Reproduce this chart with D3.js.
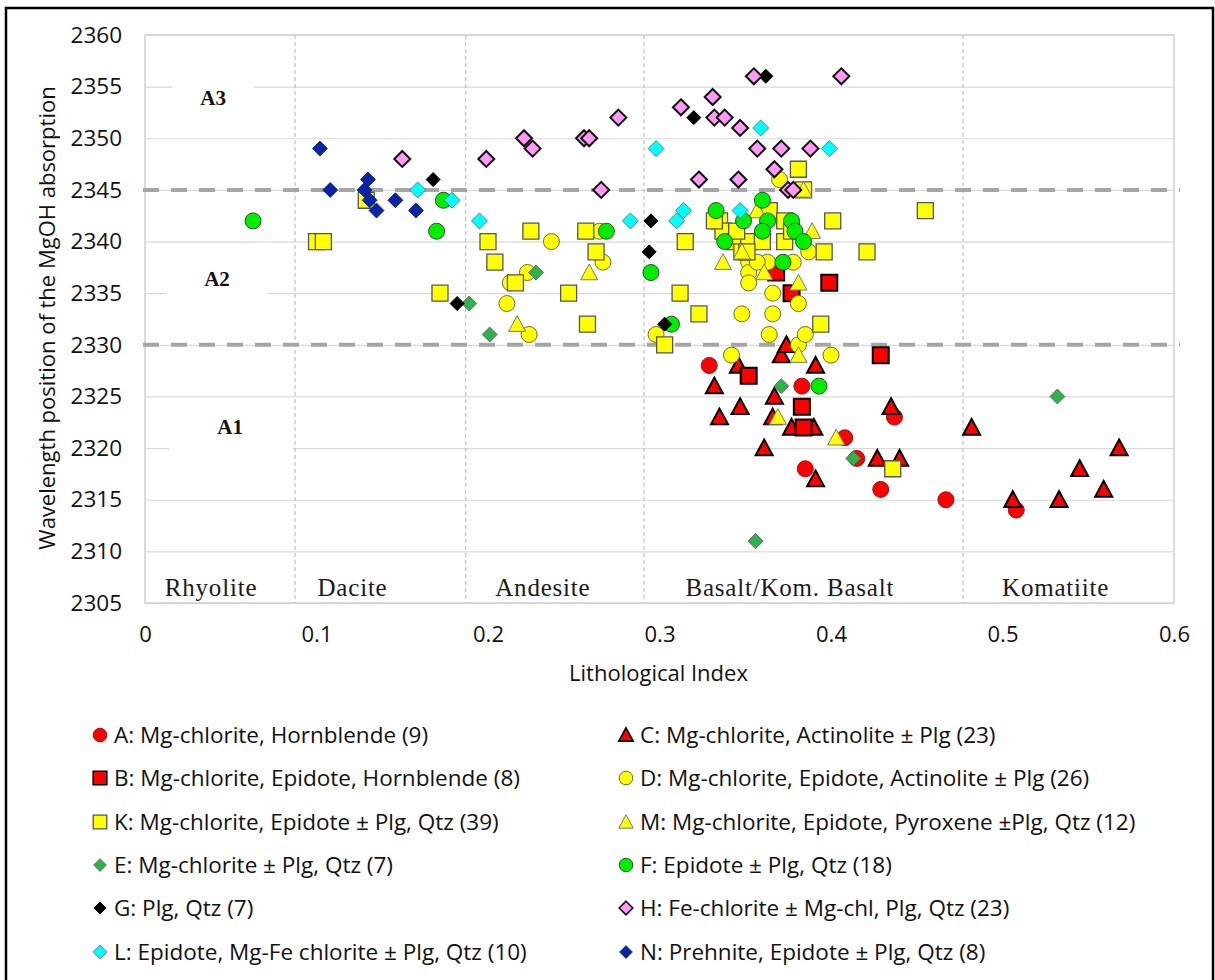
<!DOCTYPE html>
<html>
<head>
<meta charset="utf-8">
<script src="https://cdn.jsdelivr.net/npm/d3@7"></script>
<style>
  body { margin: 0; background: #fff; }
  svg { display: block; }
</style>
</head>
<body>
<svg id="chart" width="1215" height="980"></svg>
<script>
// Lithological index (x) vs. wavelength of the MgOH absorption (y), per mineral assemblage
const seriesA = [[0.329, 2328], [0.383, 2326], [0.385, 2318], [0.437, 2323], [0.408, 2321], [0.415, 2319], [0.429, 2316], [0.467, 2315], [0.508, 2314]];
const seriesC = [[0.346, 2328], [0.332, 2326], [0.347, 2324], [0.335, 2323], [0.361, 2320], [0.371, 2329], [0.374, 2330], [0.367, 2325], [0.366, 2323], [0.377, 2322], [0.390, 2322], [0.391, 2317], [0.391, 2328], [0.435, 2324], [0.482, 2322], [0.427, 2319], [0.440, 2319], [0.506, 2315], [0.533, 2315], [0.545, 2318], [0.559, 2316], [0.568, 2320]];
const seriesB = [[0.352, 2327], [0.383, 2324], [0.384, 2322], [0.429, 2329], [0.399, 2336], [0.377, 2335], [0.368, 2337]];
const seriesD = [[0.237, 2340], [0.223, 2337], [0.213, 2336], [0.211, 2334], [0.224, 2331], [0.265, 2341], [0.267, 2338], [0.298, 2331], [0.348, 2333], [0.366, 2333], [0.364, 2331], [0.342, 2329], [0.381, 2330], [0.385, 2331], [0.400, 2329], [0.370, 2346], [0.387, 2339], [0.352, 2338], [0.352, 2337], [0.363, 2338], [0.378, 2338], [0.366, 2335], [0.381, 2334], [0.352, 2336], [0.357, 2338]];
const seriesK = [[0.100, 2340], [0.104, 2340], [0.129, 2344], [0.172, 2335], [0.200, 2340], [0.204, 2338], [0.225, 2341], [0.216, 2336], [0.247, 2335], [0.257, 2341], [0.263, 2339], [0.258, 2332], [0.303, 2330], [0.315, 2340], [0.312, 2335], [0.323, 2333], [0.381, 2347], [0.384, 2345], [0.364, 2343], [0.335, 2342], [0.337, 2341], [0.373, 2342], [0.343, 2340], [0.352, 2340], [0.360, 2340], [0.373, 2340], [0.401, 2342], [0.396, 2339], [0.421, 2339], [0.455, 2343], [0.394, 2332], [0.436, 2318], [0.377, 2341], [0.348, 2339], [0.345, 2341], [0.351, 2339], [0.332, 2342]];
const seriesM = [[0.259, 2337], [0.217, 2332], [0.384, 2345], [0.357, 2343], [0.389, 2341], [0.348, 2339], [0.337, 2338], [0.361, 2337], [0.381, 2336], [0.381, 2329], [0.369, 2323], [0.403, 2321]];
const seriesE = [[0.189, 2334], [0.228, 2337], [0.201, 2331], [0.371, 2326], [0.356, 2311], [0.532, 2325], [0.413, 2319]];
const seriesF = [[0.063, 2342], [0.174, 2344], [0.170, 2341], [0.269, 2341], [0.295, 2337], [0.307, 2332], [0.333, 2343], [0.360, 2344], [0.349, 2342], [0.363, 2342], [0.377, 2342], [0.360, 2341], [0.379, 2341], [0.384, 2340], [0.338, 2340], [0.372, 2338], [0.393, 2326]];
const seriesG = [[0.168, 2346], [0.182, 2334], [0.320, 2352], [0.362, 2356], [0.295, 2342], [0.294, 2339], [0.303, 2332]];
const seriesH = [[0.150, 2348], [0.199, 2348], [0.221, 2350], [0.226, 2349], [0.256, 2350], [0.259, 2350], [0.276, 2352], [0.266, 2345], [0.3125, 2353], [0.331, 2354], [0.332, 2352], [0.338, 2352], [0.355, 2356], [0.347, 2351], [0.357, 2349], [0.371, 2349], [0.388, 2349], [0.323, 2346], [0.346, 2346], [0.367, 2347], [0.375, 2345], [0.378, 2345], [0.406, 2356]];
const seriesL = [[0.159, 2345], [0.179, 2344], [0.195, 2342], [0.298, 2349], [0.359, 2351], [0.283, 2342], [0.314, 2343], [0.310, 2342], [0.347, 2343], [0.399, 2349]];
const seriesN = [[0.102, 2349], [0.108, 2345], [0.130, 2346], [0.128, 2345], [0.131, 2344], [0.135, 2343], [0.146, 2344], [0.158, 2343]];

// series in plotting order (Excel order, later ones drawn on top)
const seriesKeys = ['A', 'C', 'B', 'D', 'K', 'M', 'E', 'F', 'G', 'H', 'L', 'N'];
const seriesLabels = {
  A: 'A: Mg-chlorite, Hornblende (9)',
  B: 'B: Mg-chlorite, Epidote, Hornblende (8)',
  K: 'K: Mg-chlorite, Epidote \u00b1 Plg, Qtz (39)',
  E: 'E: Mg-chlorite \u00b1 Plg, Qtz (7)',
  G: 'G: Plg, Qtz (7)',
  L: 'L: Epidote, Mg-Fe chlorite \u00b1 Plg, Qtz (10)',
  C: 'C: Mg-chlorite, Actinolite \u00b1 Plg (23)',
  D: 'D: Mg-chlorite, Epidote, Actinolite \u00b1 Plg (26)',
  M: 'M: Mg-chlorite, Epidote, Pyroxene \u00b1Plg, Qtz (12)',
  F: 'F: Epidote \u00b1 Plg, Qtz (18)',
  H: 'H: Fe-chlorite \u00b1 Mg-chl, Plg, Qtz (23)',
  N: 'N: Prehnite, Epidote \u00b1 Plg, Qtz (8)'
};
const seriesData = {A: seriesA, B: seriesB, C: seriesC, D: seriesD, K: seriesK, M: seriesM,
  E: seriesE, F: seriesF, G: seriesG, H: seriesH, L: seriesL, N: seriesN};
const legendLeft = ['A', 'B', 'K', 'E', 'G', 'L'];
const legendRight = ['C', 'D', 'M', 'F', 'H', 'N'];

const xTicks = [0, 0.1, 0.2, 0.3, 0.4, 0.5, 0.6];
const yTicks = [2305, 2310, 2315, 2320, 2325, 2330, 2335, 2340, 2345, 2350, 2355, 2360];

const rockNames = ['Rhyolite', 'Dacite', 'Andesite', 'Basalt/Kom. Basalt', 'Komatiite'];
const rockLabelX = [0.0385, 0.121, 0.232, 0.376, 0.531];
const rockBounds = [0.0875, 0.187, 0.291, 0.477];

const zoneLimits = [2330, 2345];
const zoneNames = ['A1', 'A2', 'A3'];
const zoneLabelX = [0.0496, 0.042, 0.0397];
const zoneLabelY = [2321.4, 2335.7, 2353.2];

// marker styles
const style = {
  A: {shape: 'circle', fill: '#ff0000', stroke: '#8b1a1a', sw: 1, size: 16},
  B: {shape: 'square', fill: '#ff0000', stroke: '#000', sw: 2, size: 16},
  C: {shape: 'triangle', fill: '#ff0000', stroke: '#000', sw: 2, size: 17},
  D: {shape: 'circle', fill: '#ffff00', stroke: '#6b6b3a', sw: 1, size: 16},
  K: {shape: 'square', fill: '#ffff00', stroke: '#555', sw: 1.3, size: 16},
  M: {shape: 'triangle', fill: '#ffff00', stroke: '#777', sw: 1, size: 17},
  E: {shape: 'diamond', fill: '#2fb24c', stroke: '#5a5a5a', sw: 0.8, size: 15},
  F: {shape: 'circle', fill: '#00ee00', stroke: '#2d4d2d', sw: 1, size: 16},
  G: {shape: 'diamond', fill: '#000', stroke: '#000', sw: 1, size: 14},
  H: {shape: 'diamond', fill: '#ff99f5', stroke: '#111', sw: 2, size: 16},
  L: {shape: 'diamond', fill: '#00ffff', stroke: '#4a6a6a', sw: 0.8, size: 16},
  N: {shape: 'diamond', fill: '#0a24a8', stroke: '#0a1a70', sw: 0.8, size: 15}
};

function markerPath(shape, s) {
  const h = s / 2;
  if (shape === 'circle') return d3.symbol(d3.symbolCircle, Math.PI * h * h)();
  if (shape === 'square') return `M${-h},${-h}H${h}V${h}H${-h}Z`;
  if (shape === 'triangle') return `M0,${-h}L${h},${h * 0.85}L${-h},${h * 0.85}Z`;
  return `M0,${-h}L${h},0L0,${h}L${-h},0Z`; // diamond
}

const svg = d3.select('#chart');
const margin = {top: 35, right: 41, bottom: 377, left: 145};
const width = 1215 - margin.left - margin.right;
const height = 980 - margin.top - margin.bottom;
const font = '"Open Sans", Lato, sans-serif';

// outer frame
svg.append('rect')
  .attr('x', 6).attr('y', 8)
  .attr('width', 1207).attr('height', 1000)
  .attr('fill', 'none').attr('stroke', '#000').attr('stroke-width', 2.5);

const g = svg.append('g').attr('transform', `translate(${margin.left},${margin.top})`);

const x = d3.scaleLinear().domain([0, 0.6]).range([0, width]);
const y = d3.scaleLinear().domain([2305, 2360]).range([height, 0]);

// horizontal grid
g.append('g')
  .call(d3.axisLeft(y).tickValues(yTicks).tickSize(-width).tickFormat(''))
  .call(ax => ax.select('.domain').remove())
  .call(ax => ax.selectAll('line').attr('stroke', '#d9d9d9').attr('stroke-width', 1.2));

// plot box
g.append('rect')
  .attr('width', width).attr('height', height)
  .attr('fill', 'none').attr('stroke', '#d0d0d0').attr('stroke-width', 1.5);

// rock type boundaries
g.selectAll('.bound')
  .data(rockBounds)
  .enter().append('line')
    .attr('x1', d => x(d)).attr('x2', d => x(d))
    .attr('y1', 0).attr('y2', height)
    .attr('stroke', '#b5b5b5').attr('stroke-width', 1)
    .attr('stroke-dasharray', '4,3');

// zone labels with white boxes
const zoneBoxW = [124, 101, 81];
zoneNames.forEach((name, i) => {
  const cx = x(zoneLabelX[i]);
  const cy = y(zoneLabelY[i]);
  g.append('rect')
    .attr('x', cx - zoneBoxW[i] / 2 + (i === 0 ? 1 : 0)).attr('y', cy - 28)
    .attr('width', zoneBoxW[i]).attr('height', 44)
    .attr('fill', '#fff');
  g.append('text')
    .attr('x', cx).attr('y', cy)
    .attr('text-anchor', 'middle')
    .attr('font-family', '"Liberation Serif", "Times New Roman", serif')
    .attr('font-weight', 'bold')
    .attr('font-size', 21)
    .attr('fill', '#111')
    .text(name);
});

// zone limits
g.selectAll('.zone')
  .data(zoneLimits)
  .enter().append('line')
    .attr('x1', -2).attr('x2', width + 6)
    .attr('y1', d => y(d)).attr('y2', d => y(d))
    .attr('stroke', '#a6a6a6').attr('stroke-width', 4)
    .attr('stroke-dasharray', '16,12');

// rock names
g.selectAll('.rock')
  .data(rockNames)
  .enter().append('text')
    .attr('x', (d, i) => x(rockLabelX[i]))
    .attr('y', height - 7)
    .attr('text-anchor', 'middle')
    .attr('font-family', '"Liberation Serif", "Times New Roman", serif')
    .attr('font-size', 25)
    .attr('letter-spacing', 0.8)
    .attr('fill', '#1a1a1a')
    .text(d => d);

// axes labels
g.append('g')
  .attr('transform', `translate(0,${height})`)
  .call(d3.axisBottom(x).tickValues(xTicks).tickSize(0).tickPadding(23).tickFormat(d => d === 0 ? '0' : d3.format('.1f')(d)))
  .call(ax => ax.select('.domain').remove())
  .call(ax => ax.selectAll('text').attr('font-family', font).attr('font-size', 22).attr('fill', '#111'));

g.append('g')
  .call(d3.axisLeft(y).tickValues(yTicks).tickSize(0).tickPadding(23).tickFormat(d3.format('d')))
  .call(ax => ax.select('.domain').remove())
  .call(ax => ax.selectAll('text').attr('font-family', font).attr('font-size', 22.5).attr('fill', '#111'));

svg.append('text')
  .attr('x', margin.left + width / 2 - 1)
  .attr('y', 681)
  .attr('text-anchor', 'middle')
  .attr('font-family', font).attr('font-size', 22).attr('fill', '#111')
  .text('Lithological Index');

svg.append('text')
  .attr('transform', 'translate(55,318) rotate(-90)')
  .attr('text-anchor', 'middle')
  .attr('font-family', font).attr('font-size', 22).attr('fill', '#111')
  .text('Wavelength position of the MgOH absorption');

// points
seriesKeys.forEach(k => {
  const st = style[k];
  g.append('g')
    .selectAll('path')
    .data(seriesData[k])
    .enter().append('path')
      .attr('transform', d => `translate(${x(d[0])},${y(d[1])})`)
      .attr('d', markerPath(st.shape, st.size))
      .attr('fill', st.fill)
      .attr('stroke', st.stroke)
      .attr('stroke-width', st.sw);
});

// legend
const rowY = [735, 778, 822, 865, 908, 952];
[[legendLeft, 100], [legendRight, 626]].forEach(([keys, mx]) => {
  const item = svg.append('g').selectAll('g')
    .data(keys)
    .enter().append('g')
      .attr('transform', (d, i) => `translate(${mx},${rowY[i]})`);
  item.append('path')
    .attr('d', d => markerPath(style[d].shape, style[d].size * 0.85))
    .attr('fill', d => style[d].fill)
    .attr('stroke', d => style[d].stroke)
    .attr('stroke-width', d => Math.min(style[d].sw, 1.6));
  item.append('text')
    .attr('x', 14)
    .attr('dy', '0.35em')
    .attr('font-family', font).attr('font-size', 22.5).attr('fill', '#111')
    .text(d => seriesLabels[d]);
});
</script>
</body>
</html>
